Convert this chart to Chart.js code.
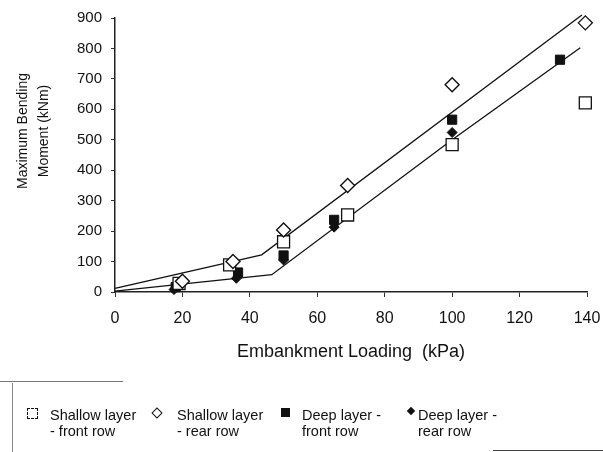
<!DOCTYPE html>
<html>
<head>
<meta charset="utf-8">
<script src="https://cdn.jsdelivr.net/npm/chart.js@4.4.0/dist/chart.umd.min.js"></script>
<style>
body { margin: 0; background: #fff; width: 603px; height: 452px; overflow: hidden; position: relative; font-family: "Liberation Sans", Arial, sans-serif; color: #111; }
#wrap { position: absolute; left: 0; top: 0; width: 603px; height: 378px; }
#legend { position: absolute; left: 0; top: 0; width: 603px; height: 452px; pointer-events: none; }
.ico { position: absolute; box-sizing: border-box; }
.txt { position: absolute; font-size: 14.5px; line-height: 16px; white-space: nowrap; }
.rule { position: absolute; }
</style>
</head>
<body>
<div id="wrap"><canvas id="chart"></canvas></div>
<div id="legend"></div>
<script>
// values (kPa, kNm)
var loadShallowFront = [19, 34, 50, 69, 100, 139.5];
var momentShallowFront = [28, 89, 165, 253, 484, 621];
var loadShallowRear = [20, 35, 50, 69, 100, 139.5];
var momentShallowRear = [35, 100, 204, 350, 681, 884];
var loadDeepFront = [18, 36.5, 50, 65, 100, 132];
var momentDeepFront = [16, 64, 120, 237, 566, 763];
var loadDeepRear = [17.5, 36, 50, 65, 100];
var momentDeepRear = [8, 45, 105, 213, 524];
var upperLineLoad = [0, 43.5, 138.5];
var upperLineMoment = [12, 122, 910];
var lowerLineLoad = [0, 46.5, 100, 138];
var lowerLineMoment = [3, 57, 500, 802];

var seriesLabels = [
    ['Shallow layer', '- front row'],
    ['Shallow layer', '- rear row'],
    ['Deep layer -', 'front row'],
    ['Deep layer -', 'rear row']
];
var xTitle = 'Embankment Loading  (kPa)';
var yTitleLines = ['Maximum Bending', 'Moment (kNm)'];

function pairs(xs, ys) {
    var out = [];
    for (var i = 0; i < xs.length; i++) {
        out.push({x: xs[i], y: ys[i]});
    }
    return out;
}

var ink = '#111';

var yTitlePlugin = {
    id: 'yTitle',
    afterDraw: function(chart) {
        var ctx = chart.ctx;
        ctx.save();
        ctx.translate(33.5, 131);
        ctx.rotate(-Math.PI / 2);
        ctx.font = '14px "Liberation Sans", Arial, sans-serif';
        ctx.fillStyle = ink;
        ctx.textAlign = 'center';
        ctx.textBaseline = 'middle';
        ctx.fillText(yTitleLines[0], 0, -10.5);
        ctx.fillText(yTitleLines[1], 0, 10.5);
        ctx.restore();
    }
};

var chart = new Chart(document.getElementById('chart'), {
    type: 'scatter',
    data: {
        datasets: [
            {
                label: seriesLabels[1].join(' '),
                data: pairs(loadShallowRear, momentShallowRear),
                pointStyle: 'rectRot',
                pointRadius: 7,
                backgroundColor: '#fff',
                borderColor: ink,
                borderWidth: 1.4,
                order: 1
            },
            {
                label: seriesLabels[0].join(' '),
                data: pairs(loadShallowFront, momentShallowFront),
                pointStyle: 'rect',
                pointRadius: 8.5,
                backgroundColor: '#fff',
                borderColor: ink,
                borderWidth: 1.3,
                order: 2
            },
            {
                label: seriesLabels[3].join(' '),
                data: pairs(loadDeepRear, momentDeepRear),
                pointStyle: 'rectRot',
                pointRadius: 5,
                backgroundColor: ink,
                borderColor: ink,
                borderWidth: 1,
                order: 3
            },
            {
                label: seriesLabels[2].join(' '),
                data: pairs(loadDeepFront, momentDeepFront),
                pointStyle: 'rect',
                pointRadius: 6.5,
                backgroundColor: ink,
                borderColor: ink,
                borderWidth: 1,
                order: 4
            },
            {
                label: 'upper fit',
                type: 'line',
                data: pairs(upperLineLoad, upperLineMoment),
                borderColor: ink,
                borderWidth: 1.3,
                pointRadius: 0,
                tension: 0,
                fill: false,
                order: 5
            },
            {
                label: 'lower fit',
                type: 'line',
                data: pairs(lowerLineLoad, lowerLineMoment),
                borderColor: ink,
                borderWidth: 1.3,
                pointRadius: 0,
                tension: 0,
                fill: false,
                order: 6
            }
        ]
    },
    options: {
        responsive: true,
        maintainAspectRatio: false,
        animation: false,
        datasets: {
            scatter: {clip: false},
            line: {clip: false}
        },
        layout: {
            padding: {top: 18, right: 16, bottom: 0, left: 0}
        },
        plugins: {
            legend: {display: false},
            tooltip: {enabled: false}
        },
        scales: {
            x: {
                type: 'linear',
                min: 0,
                max: 140,
                ticks: {
                    stepSize: 20,
                    color: ink,
                    padding: 12,
                    font: {family: '"Liberation Sans", Arial, sans-serif', size: 16}
                },
                grid: {drawOnChartArea: false, tickLength: 5, color: '#333'},
                border: {color: '#222', width: 1.5},
                title: {
                    display: true,
                    text: xTitle,
                    color: ink,
                    padding: {top: 0, bottom: 15},
                    font: {family: '"Liberation Sans", Arial, sans-serif', size: 18}
                },
                afterFit: function(scale) {
                    scale.height = 86;
                    scale.paddingLeft = 0;
                    scale.paddingRight = 0;
                }
            },
            y: {
                min: 0,
                max: 900,
                ticks: {
                    stepSize: 100,
                    color: ink,
                    padding: 9,
                    font: {family: '"Liberation Sans", Arial, sans-serif', size: 15}
                },
                grid: {drawOnChartArea: false, tickLength: 4, color: '#333'},
                border: {color: '#222', width: 1.5},
                afterFit: function(scale) {
                    scale.width = 115;
                    scale.paddingTop = 0;
                    scale.paddingBottom = 0;
                }
            }
        }
    },
    plugins: [yTitlePlugin]
});

// legend below the plot, built from the same labels
var legend = document.getElementById('legend');
var iconSpecs = [
    {cx: 32, cy: 413, w: 11, h: 11, rot: 0, fill: false},
    {cx: 157, cy: 413, w: 8, h: 8, rot: 45, fill: false},
    {cx: 285, cy: 412, w: 9, h: 9, rot: 0, fill: true},
    {cx: 411, cy: 411, w: 6, h: 6, rot: 45, fill: true}
];
var textLeft = [50, 177, 302, 418];

for (var i = 0; i < seriesLabels.length; i++) {
    var s = iconSpecs[i];
    var ico = document.createElement('div');
    ico.className = 'ico';
    ico.style.left = (s.cx - s.w / 2) + 'px';
    ico.style.top = (s.cy - s.h / 2) + 'px';
    ico.style.width = s.w + 'px';
    ico.style.height = s.h + 'px';
    ico.style.transform = 'rotate(' + s.rot + 'deg)';
    if (s.fill) {
        ico.style.background = ink;
    } else {
        ico.style.border = (i === 0 ? '1.3px dashed ' : '1.4px solid ') + ink;
        ico.style.background = '#fff';
    }
    legend.appendChild(ico);

    var t = document.createElement('div');
    t.className = 'txt';
    t.style.left = textLeft[i] + 'px';
    t.style.top = '407px';
    t.innerHTML = seriesLabels[i][0] + '<br>' + seriesLabels[i][1];
    legend.appendChild(t);
}

// broken scan outline of the legend box
var rules = [
    {left: 0, top: 381, width: 123, height: 1, color: '#777'},
    {left: 12, top: 383, width: 1, height: 69, color: '#888'},
    {left: 493, top: 450, width: 110, height: 1, color: '#444'}
];
rules.forEach(function(r) {
    var d = document.createElement('div');
    d.className = 'rule';
    d.style.left = r.left + 'px';
    d.style.top = r.top + 'px';
    d.style.width = r.width + 'px';
    d.style.height = r.height + 'px';
    d.style.background = r.color;
    legend.appendChild(d);
});
</script>
</body>
</html>
